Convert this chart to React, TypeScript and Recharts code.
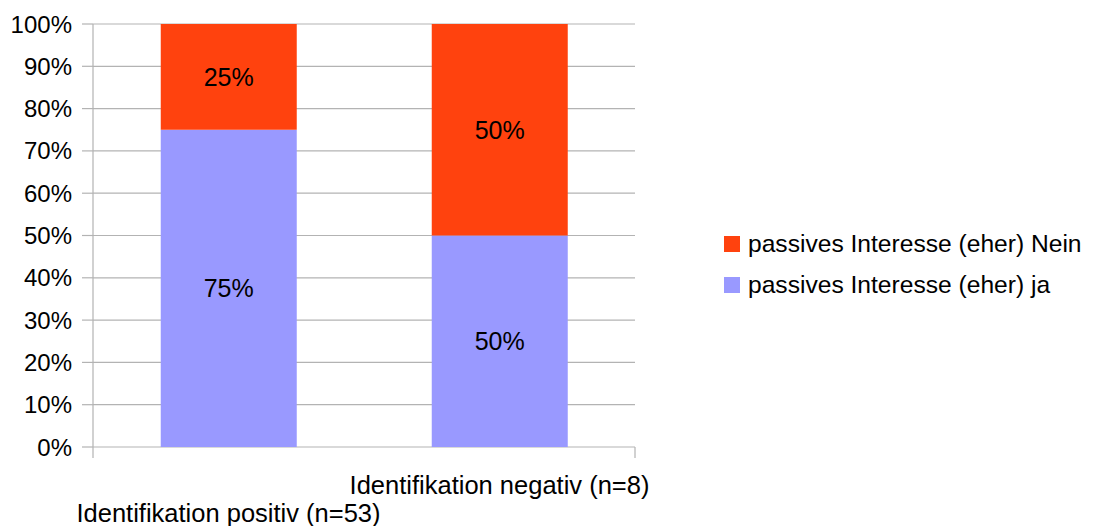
import {
    BarChart,
    Bar,
    XAxis,
    YAxis,
    CartesianGrid,
    Legend,
    LabelList,
} from 'recharts';

const categories = ['Identifikation positiv (n=53)', 'Identifikation negativ (n=8)'];
const jaValues = [75, 50];
const neinValues = [25, 50];
const yTicks = [0, 10, 20, 30, 40, 50, 60, 70, 80, 90, 100];
const edgeTicks = [0, 1, 2];

const series = [
    { key: 'nein', name: 'passives Interesse (eher) Nein', color: '#ff420e' },
    { key: 'ja', name: 'passives Interesse (eher) ja', color: '#9999ff' },
];

const data = categories.map((name, i) => ({ name, ja: jaValues[i], nein: neinValues[i] }));

const FONT = '"Liberation Sans", Arial, sans-serif';
const GRID = '#b3b3b3';

// labels alternate between two rows so the long names don't collide
// eslint-disable-next-line @typescript-eslint/no-explicit-any
const CategoryTick = ({ x, y, payload, index }: any) => (
    <text
        x={x}
        y={y + (index % 2 === 0 ? 56 : 28)}
        textAnchor="middle"
        fontSize={25.5}
        fontFamily={FONT}
        fill="#000"
    >
        {payload.value}
    </text>
);

const LegendList = () => (
    <div style={{ fontFamily: FONT, fontSize: 24.6, color: '#000' }}>
        {series.map((s) => (
            <div key={s.key} style={{ display: 'flex', alignItems: 'center', height: 41 }}>
                <span style={{ width: 16, height: 16, background: s.color, marginRight: 8 }} />
                <span>{s.name}</span>
            </div>
        ))}
    </div>
);

export default function App() {
    return (
        <div style={{ position: 'absolute', left: 0, top: 0, background: '#fff' }}>
            <BarChart
                width={1102}
                height={526}
                data={data}
                margin={{ top: 24, right: 467, bottom: 0, left: 0 }}
                barCategoryGap="25%"
            >
                <CartesianGrid xAxisId="names" vertical={false} stroke={GRID} strokeWidth={1.2} />
                {/* short marks at the category boundaries, sits right on the baseline */}
                <XAxis
                    xAxisId="bounds"
                    type="number"
                    domain={[0, 2]}
                    ticks={edgeTicks}
                    height={11}
                    tickFormatter={() => ''}
                    tickSize={11}
                    axisLine={false}
                    tickLine={{ stroke: GRID, strokeWidth: 1.2 }}
                />
                <XAxis
                    xAxisId="names"
                    dataKey="name"
                    height={68}
                    axisLine={false}
                    tickLine={false}
                    tick={<CategoryTick />}
                    interval={0}
                />
                <YAxis
                    domain={[0, 100]}
                    ticks={yTicks}
                    width={93}
                    tickFormatter={(v) => `${v}%`}
                    tick={{ fontSize: 24, fill: '#000', fontFamily: FONT }}
                    tickSize={11}
                    tickMargin={10}
                    stroke={GRID}
                    strokeWidth={1.2}
                />
                <YAxis
                    yAxisId="right"
                    orientation="right"
                    domain={[0, 100]}
                    width={0}
                    tick={false}
                    tickLine={false}
                    stroke={GRID}
                    strokeWidth={1.2}
                />
                <Legend
                    layout="vertical"
                    align="center"
                    verticalAlign="middle"
                    content={<LegendList />}
                    wrapperStyle={{ left: 724, top: 223, width: 370 }}
                />
                <Bar xAxisId="names" dataKey="ja" stackId="a" fill="#9999ff" isAnimationActive={false}>
                    <LabelList
                        dataKey="ja"
                        position="center"
                        formatter={(v: number) => `${v}%`}
                        fill="#000"
                        fontSize={25}
                        fontFamily={FONT}
                    />
                </Bar>
                <Bar xAxisId="names" dataKey="nein" stackId="a" fill="#ff420e" isAnimationActive={false}>
                    <LabelList
                        dataKey="nein"
                        position="center"
                        formatter={(v: number) => `${v}%`}
                        fill="#000"
                        fontSize={25}
                        fontFamily={FONT}
                    />
                </Bar>
            </BarChart>
        </div>
    );
}
